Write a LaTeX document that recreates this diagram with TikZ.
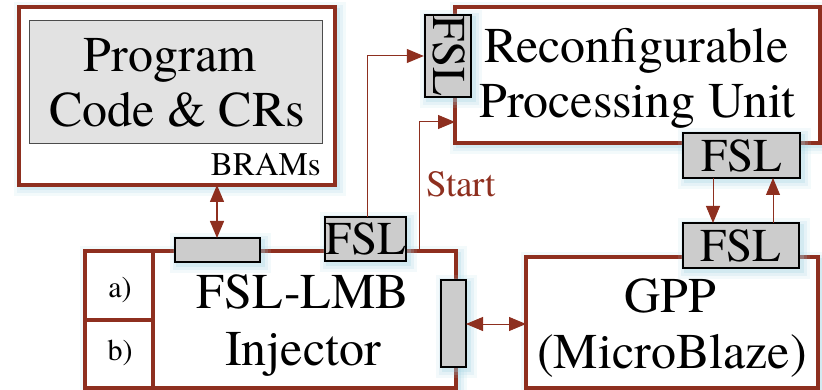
\documentclass[tikz,border=0pt]{standalone}
\usepackage{fontspec}
\setmainfont{TeX Gyre Termes}
\newfontfamily\tms{TeX Gyre Termes}
\usetikzlibrary{arrows.meta}
\definecolor{wire}{RGB}{142,47,31}
\definecolor{glow}{RGB}{160,210,225}
\definecolor{port}{RGB}{204,204,204}
\definecolor{mem}{RGB}{226,226,226}

\tikzset{
  halo/.style={
    preaction={draw=glow, line width=16pt, draw opacity=0.12, fill=none,
      transform canvas={shift={(3pt,-3pt)}}},
    preaction={draw=glow, line width=10pt, draw opacity=0.18, fill=none,
      transform canvas={shift={(3pt,-3pt)}}},
    preaction={draw=glow, line width=4pt, draw opacity=0.25, fill=none,
      transform canvas={shift={(3pt,-3pt)}}}},
  unit/.style={halo, draw=wire, line width=4pt, fill=white, inner sep=0pt},
  memblock/.style={draw=black!70, line width=1pt, fill=mem, inner sep=0pt},
  portbox/.style={halo, draw=black, line width=2.4pt, fill=port, inner sep=0pt},
  cell/.style={draw=wire, line width=4pt, fill=white, inner sep=0pt},
  link/.style={draw=wire, line width=1pt, >={Triangle[length=17pt,width=14pt]}, ->},
  dlink/.style={draw=wire, line width=1.4pt, >={Triangle[length=17pt,width=14pt]}, <->},
  big/.style={font=\tms\fontsize{50}{56}\selectfont, inner sep=0pt},
  mid/.style={font=\tms\fontsize{47}{50}\selectfont, inner sep=0pt},
  small/.style={font=\tms\fontsize{33}{38}\selectfont, inner sep=0pt},
  tag/.style={font=\tms\fontsize{30}{34}\selectfont, inner sep=0pt},
}

\begin{document}
\begin{tikzpicture}[x=1pt, y=-1pt]
\useasboundingbox (0,0) rectangle (822,390);

% memory block
\node[unit, minimum width=316pt, minimum height=178pt] (bram) at (177,96) {};
\node[memblock, minimum width=293pt, minimum height=123pt] (code) at (175.5,82.5) {};
\node[big, anchor=base] (codeA) at (170,72) {Program};
\node[big, anchor=base] (codeB) at (177,127) {Code \& CRs};
\node[small, anchor=base east] (bramlbl) at (321,176) {BRAMs};

% reconfigurable unit
\node[unit, minimum width=365pt, minimum height=136pt] (rpu) at (637.5,75) {};
\node[big, anchor=base] (rpuA) at (636.5,63) {Reconfigurable};
\node[big, anchor=base] (rpuB) at (637.5,118) {Processing Unit};
\node[portbox, minimum width=46pt, minimum height=82pt] (fslin) at (448,56) {};
\node[mid, rotate=-90] (fslintxt) at (449,56) {FSL};
\node[portbox, minimum width=117pt, minimum height=45pt, mid] (fslout) at (741.5,155.5) {FSL};

% GPP
\node[unit, minimum width=292pt, minimum height=131pt] (gpp) at (672,322.5) {};
\node[big, anchor=base] (gppA) at (670,312) {GPP};
\node[big, anchor=base] (gppB) at (672,368) {(MicroBlaze)};
\node[portbox, minimum width=116pt, minimum height=45pt, mid] (fslgpp) at (741,245.5) {FSL};

% injector
\node[unit, minimum width=371pt, minimum height=137pt] (inj) at (270.5,319.5) {};
\node[cell, minimum width=68pt, minimum height=69pt] (cella) at (119,285.5) {};
\node[cell, minimum width=68pt, minimum height=68pt] (cellb) at (119,354) {};
\node[tag] (lbla) at (120,290) {a)};
\node[tag] (lblb) at (120,353) {b)};
\node[big, anchor=base] (injA) at (303,308) {FSL-LMB};
\node[big, anchor=base] (injB) at (303,365) {Injector};
\node[portbox, minimum width=85pt, minimum height=24pt] (lmb) at (217.5,250) {};
\node[portbox, minimum width=81pt, minimum height=44pt, mid] (fslinj) at (365.5,239) {FSL};
\node[portbox, minimum width=25pt, minimum height=87pt] (side) at (453.5,323.5) {};

% connectors
\coordinate (bramfoot) at (217,185);
\coordinate (lmbtop) at (217,238);
\draw[dlink] (bramfoot) -- (lmbtop);

\coordinate (fslup) at (367,217);
\draw[link] (fslup) |- (fslin.west);

\coordinate (startfoot) at (419,251);
\coordinate (startend) at (455,122);
\draw[link] (startfoot) |- (startend);
\node[text=wire, anchor=base west, inner sep=0pt, font=\tms\fontsize{37}{40}\selectfont] (start) at (426,197) {Start};

\coordinate (sideR) at (466,324);
\coordinate (gppL) at (526,324);
\draw[dlink, line width=1pt] (sideR) -- (gppL);

\coordinate (downtop) at (713,178);
\coordinate (downbot) at (713,223);
\coordinate (uptop) at (773,178);
\coordinate (upbot) at (773,223);
\draw[link] (downtop) -- (downbot);
\draw[link] (upbot) -- (uptop);
\end{tikzpicture}
\end{document}
